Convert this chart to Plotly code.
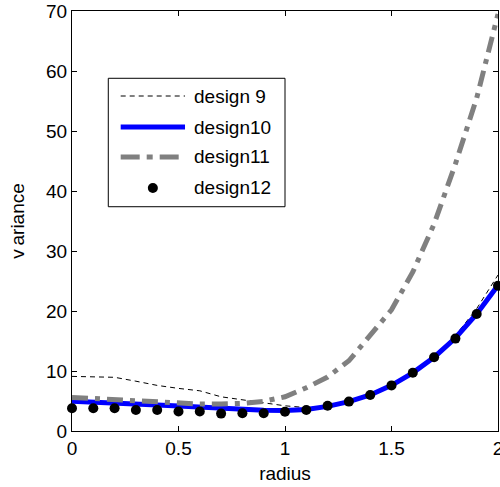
import plotly.graph_objects as go

# radius samples shared by all designs
radius = [0.0, 0.1, 0.2, 0.3, 0.4, 0.5, 0.6, 0.7, 0.8, 0.9, 1.0,
          1.1, 1.2, 1.3, 1.4, 1.5, 1.6, 1.7, 1.8, 1.9, 2.0]

design9 = [9.1, 9.05, 8.95, 8.3, 7.6, 7.1, 6.7, 5.7, 5.2, 4.8, 4.2,
           3.9, 4.2, 4.95, 6.05, 7.7, 9.85, 12.5, 15.9, 20.4, 26.0]
design10 = [4.95, 4.85, 4.7, 4.55, 4.35, 4.15, 3.95, 3.75, 3.6, 3.45, 3.4,
            3.6, 4.1, 4.9, 6.0, 7.6, 9.7, 12.3, 15.5, 19.5, 24.3]
design11 = [5.6, 5.4, 5.2, 5.0, 4.8, 4.6, 4.5, 4.5, 4.6, 4.95, 5.7,
            7.2, 9.0, 11.7, 15.9, 20.2, 26.5, 34.5, 44.5, 55.5, 69.5]
design12 = [3.8, 3.8, 3.8, 3.5, 3.5, 3.25, 3.25, 2.9, 2.95, 2.95, 3.2,
            3.5, 4.2, 4.9, 6.0, 7.6, 9.7, 12.3, 15.4, 19.5, 24.2]

x_ticks = [0, 0.5, 1, 1.5, 2]
x_tick_labels = ["0", "0.5", "1", "1.5", "2"]
y_ticks = [0, 10, 20, 30, 40, 50, 60, 70]
y_tick_labels = ["0", "10", "20", "30", "40", "50", "60", "70"]

FONT = "Liberation Sans, Arial, sans-serif"
FS = 19

fig = go.Figure()
fig.add_trace(go.Scatter(x=radius, y=design9, mode="lines", name="design 9",
                         line=dict(color="black", width=1, dash="5px,4px")))
fig.add_trace(go.Scatter(x=radius, y=design10, mode="lines", name="design10",
                         line=dict(color="#0000ff", width=5)))
fig.add_trace(go.Scatter(x=radius, y=design11, mode="lines", name="design11",
                         line=dict(color="#808080", width=5,
                                   dash="16px,7px,5px,7px")))
fig.add_trace(go.Scatter(x=radius, y=design12, mode="markers", name="design12",
                         cliponaxis=False,
                         marker=dict(color="black", size=10, symbol="circle")))

axis_style = dict(showline=True, linecolor="black", linewidth=1, mirror="ticks",
                  ticks="inside", ticklen=5, tickcolor="black", showgrid=False,
                  zeroline=False, ticklabeloverflow="allow",
                  tickfont=dict(family=FONT, size=FS, color="black"))

fig.update_xaxes(range=[0, 2], tickvals=x_ticks, ticktext=x_tick_labels,
                 title=dict(text="radius", font=dict(family=FONT, size=FS, color="black"),
                            standoff=8),
                 **axis_style)
fig.update_yaxes(range=[0, 70], tickvals=y_ticks, ticktext=y_tick_labels,
                 title=dict(text="v\u2009ariance", font=dict(family=FONT, size=FS, color="black"),
                            standoff=16),
                 **axis_style)

# hand-built legend box with longer line samples
leg_x0, leg_x1, leg_y0, leg_y1 = 0.0852, 0.5, 0.534, 0.8398
sample_x0, sample_x1, text_x = 0.1143, 0.2653, 0.281
entry_y = [0.7976, 0.7238, 0.6524, 0.5786]
entries = [
    ("design 9", dict(color="black", width=1, dash="5px,4px"), "line"),
    ("design10", dict(color="#0000ff", width=5), "line"),
    ("design11", dict(color="#808080", width=5, dash="19px,7px,6px,7px"), "line"),
    ("design12", None, "dot"),
]
shapes = [dict(type="rect", xref="paper", yref="paper", x0=leg_x0, x1=leg_x1,
               y0=leg_y0, y1=leg_y1, line=dict(color="black", width=1),
               fillcolor="white", layer="above")]
annotations = []
for (label, ln, kind), yy in zip(entries, entry_y):
    if kind == "line":
        shapes.append(dict(type="line", xref="paper", yref="paper",
                           x0=sample_x0, x1=sample_x1, y0=yy, y1=yy,
                           line=ln, layer="above"))
    else:
        shapes.append(dict(type="circle", xref="paper", yref="paper",
                           xsizemode="pixel", ysizemode="pixel",
                           xanchor=(sample_x0 + sample_x1) / 2, yanchor=yy,
                           x0=-5, x1=5, y0=-5, y1=5,
                           fillcolor="black", line=dict(color="black", width=0),
                           layer="above"))
    annotations.append(dict(xref="paper", yref="paper", x=text_x, y=yy,
                            xanchor="left", yanchor="middle", showarrow=False,
                            text=label, font=dict(family=FONT, size=FS, color="black")))

fig.update_layout(
    width=500, height=487,
    margin=dict(l=72, r=2, t=11, b=56, autoexpand=False),
    paper_bgcolor="white", plot_bgcolor="white",
    showlegend=False,
    shapes=shapes, annotations=annotations,
)

fig.write_html("out.html")
